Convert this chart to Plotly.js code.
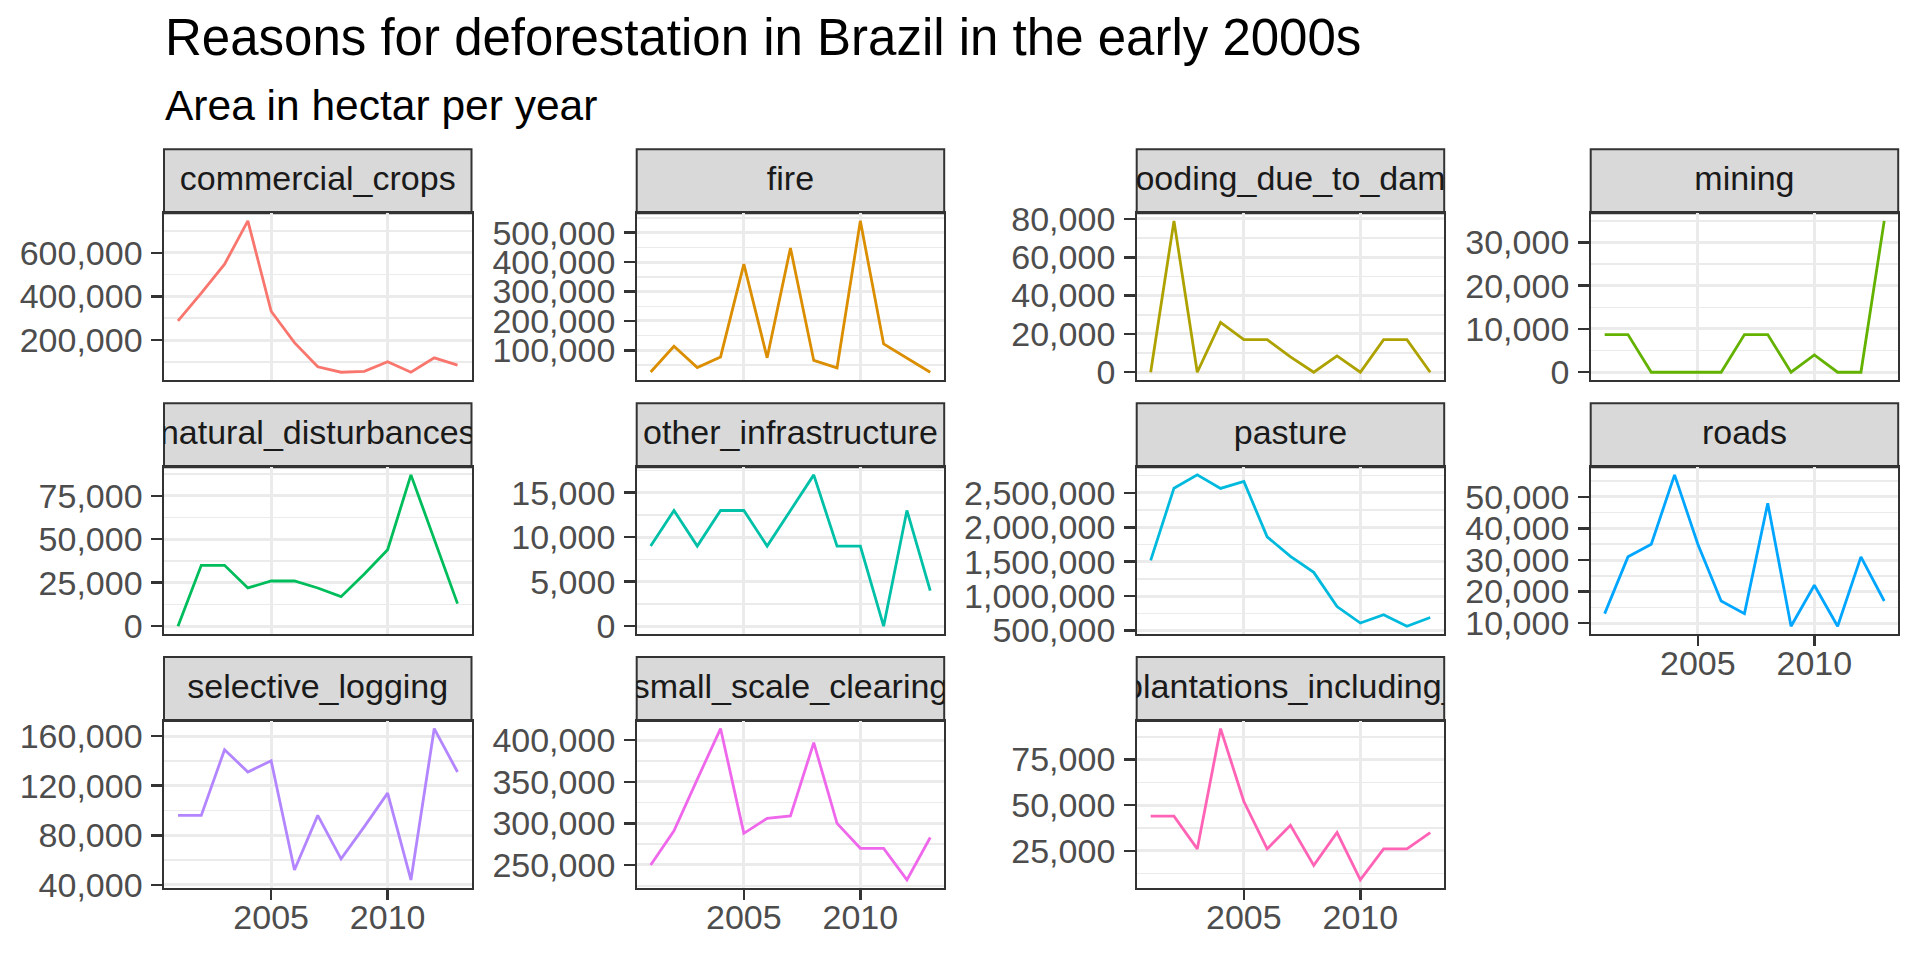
<!DOCTYPE html>
<html><head><meta charset="utf-8">
<script src="https://cdn.plot.ly/plotly-3.0.1.min.js"></script>
<style>html,body{margin:0;padding:0;background:#fff;} #chart{width:1920px;height:960px;}</style>
</head><body><div id="chart"></div>
<script>
// ---- data ----
const years = [2001,2002,2003,2004,2005,2006,2007,2008,2009,2010,2011,2012,2013];
const categories = ['commercial_crops','fire','flooding_due_to_dams','mining','natural_disturbances','other_infrastructure','pasture','roads','selective_logging','small_scale_clearing','tree_plantations_including_palm'];
const commercial_crops = [288000,415000,548000,747000,332000,188000,77000,52000,56000,100000,52000,118000,85000];
const fire = [27000,114000,42000,78000,393000,75000,448000,66000,41000,540000,122000,73000,26000];
const flooding_due_to_dams = [0,79000,0,26000,17000,17000,8000,0,8500,0,17000,17000,0];
const mining = [8700,8700,0,0,0,0,8700,8700,0,4000,0,0,35000];
const natural_disturbances = [0,35000,35000,22000,26000,26000,22000,17000,30000,44000,87000,50000,13000];
const other_infrastructure = [9000,13000,9000,13000,13000,9000,13000,17000,9000,9000,0,13000,4000];
const pasture = [1520000,2568000,2761000,2564000,2665000,1861000,1577000,1345000,849000,609000,729000,563000,689000];
const roads = [13000,31000,35000,57000,35000,17000,13000,48000,9000,22000,9000,31000,17000];
const selective_logging = [96000,96000,149000,131000,140000,52000,96000,61000,87000,114000,44000,166000,131000];
const small_scale_clearing = [250000,291000,353000,414000,288000,306000,309000,397000,300000,270000,270000,232000,283000];
const tree_plantations_including_palm = [44000,44000,26000,92000,52000,26000,39000,17000,35000,9000,26000,26000,35000];

const xTickVals = [2005, 2010];
const xTickLabels = ['2005', '2010'];
const yTicks_commercial_crops = [200000,400000,600000];
const yTicks_fire = [100000,200000,300000,400000,500000];
const yTicks_flooding = [0,20000,40000,60000,80000];
const yTicks_mining = [0,10000,20000,30000];
const yTicks_natural = [0,25000,50000,75000];
const yTicks_other = [0,5000,10000,15000];
const yTicks_pasture = [500000,1000000,1500000,2000000,2500000];
const yTicks_roads = [10000,20000,30000,40000,50000];
const yTicks_selective = [40000,80000,120000,160000];
const yTicks_small = [250000,300000,350000,400000];
const yTicks_tree = [25000,50000,75000];

const colors = ['#F8766D','#DB8E00','#AEA200','#64B200','#00BD5C','#00C1A7','#00BADE','#00A6FF','#B385FF','#EF67EB','#FF63B6'];

const titleText = 'Reasons for deforestation in Brazil in the early 2000s';
const subtitleText = 'Area in hectar per year';

// ---- layout geometry ----
const W = 1920, H = 960;
const FONT = '"Liberation Sans", Arial, sans-serif';
const colLeft = [164, 636.7, 1136.7, 1590.7];
const panelW = 307.5;
const stripTop = [149.3, 403.3, 657];
const stripH = 64;
const plotH = 166.5;
const fx = p => p / W;
const fy = p => 1 - p / H;

const series = [commercial_crops, fire, flooding_due_to_dams, mining, natural_disturbances, other_infrastructure, pasture, roads, selective_logging, small_scale_clearing, tree_plantations_including_palm];
const yTickSets = [yTicks_commercial_crops, yTicks_fire, yTicks_flooding, yTicks_mining, yTicks_natural, yTicks_other, yTicks_pasture, yTicks_roads, yTicks_selective, yTicks_small, yTicks_tree];

const layout = {
  width: W, height: H,
  margin: {l:0, r:0, t:0, b:0},
  paper_bgcolor: '#ffffff',
  plot_bgcolor: 'rgba(0,0,0,0)',
  showlegend: false,
  font: {family: FONT},
  shapes: [],
  annotations: []
};
const traces = [];
const xMin = Math.min(...years), xMax = Math.max(...years);
const xPad = 0.05 * (xMax - xMin);

series.forEach((vals, i) => {
  const col = i % 4, row = Math.floor(i / 4);
  const x0 = colLeft[col], x1 = x0 + panelW;
  const sTop = stripTop[row], sBot = sTop + stripH, pBot = sBot + plotH;
  const n1 = 2 * i + 1, n2 = 2 * i + 2;
  const sx1 = n1 === 1 ? '' : String(n1), sx2 = String(n2);
  const bottom = i >= 7;
  const mn = Math.min(...vals), mx = Math.max(...vals), pad = 0.05 * (mx - mn);
  const ticks = yTickSets[i];
  const step = ticks[1] - ticks[0];
  const minorVals = ticks.map(t => t - step / 2).concat([ticks[ticks.length - 1] + step / 2]);

  layout['xaxis' + sx1] = {
    domain: [fx(x0), fx(x1)], anchor: 'y' + sx1,
    range: [xMin - xPad, xMax + xPad],
    tickmode: 'array', tickvals: xTickVals, ticktext: xTickLabels,
    showticklabels: bottom, ticks: bottom ? 'outside' : '',
    ticklen: 10.6, tickwidth: 2.5, tickcolor: '#333333',
    ticklabelstandoff: -12,
    tickfont: {size: 34, color: '#4D4D4D', family: FONT},
    showgrid: true, gridcolor: '#EBEBEB', gridwidth: 3,
    zeroline: false, showline: true, mirror: true, linecolor: '#333333', linewidth: 2,
    fixedrange: true
  };
  layout['yaxis' + sx1] = {
    domain: [fy(pBot), fy(sBot)], anchor: 'x' + sx1,
    range: [mn - pad, mx + pad],
    tickmode: 'array', tickvals: ticks, tickformat: ',',
    ticks: 'outside', ticklen: 10.6, tickwidth: 2.5, tickcolor: '#333333',
    ticklabelstandoff: 2,
    tickfont: {size: 34, color: '#4D4D4D', family: FONT},
    showgrid: true, gridcolor: '#EBEBEB', gridwidth: 3,
    minor: {tickmode: 'array', tickvals: minorVals, showgrid: true, gridcolor: '#EBEBEB', gridwidth: 1.5, ticks: ''},
    zeroline: false, showline: true, mirror: true, linecolor: '#333333', linewidth: 2,
    fixedrange: true
  };
  // strip axes
  layout['xaxis' + sx2] = {
    domain: [fx(x0), fx(x1)], anchor: 'y' + sx2, range: [0, 1],
    showgrid: false, zeroline: false, showline: false, showticklabels: false, ticks: '', fixedrange: true
  };
  layout['yaxis' + sx2] = {
    domain: [fy(sBot), fy(sTop)], anchor: 'x' + sx2, range: [0, 1],
    showgrid: false, zeroline: false, showline: false, showticklabels: false, ticks: '', fixedrange: true
  };
  layout.shapes.push({
    type: 'rect', xref: 'paper', yref: 'paper',
    x0: fx(x0), x1: fx(x1), y0: fy(sBot), y1: fy(sTop),
    fillcolor: '#D9D9D9', line: {color: '#333333', width: 2}, layer: 'below'
  });
  traces.push({
    type: 'scatter', mode: 'lines', x: years, y: vals,
    xaxis: 'x' + sx1, yaxis: 'y' + sx1,
    line: {color: colors[i], width: 2.8}, hoverinfo: 'skip'
  });
  traces.push({
    type: 'scatter', mode: 'text', x: [0.5], y: [0.5], text: [categories[i]],
    xaxis: 'x' + sx2, yaxis: 'y' + sx2,
    textposition: 'middle center', cliponaxis: true,
    textfont: {size: 34, color: '#1A1A1A', family: FONT}, hoverinfo: 'skip'
  });
});

layout.annotations.push({
  text: titleText, xref: 'paper', yref: 'paper', x: fx(163), y: fy(38),
  xanchor: 'left', yanchor: 'middle', showarrow: false,
  font: {size: 51, color: '#000000', family: FONT}
});
layout.annotations.push({
  text: subtitleText, xref: 'paper', yref: 'paper', x: fx(163), y: fy(105),
  xanchor: 'left', yanchor: 'middle', showarrow: false,
  font: {size: 42.5, color: '#000000', family: FONT}
});

Plotly.newPlot('chart', traces, layout, {displayModeBar: false, staticPlot: true});
</script>
</body></html>
